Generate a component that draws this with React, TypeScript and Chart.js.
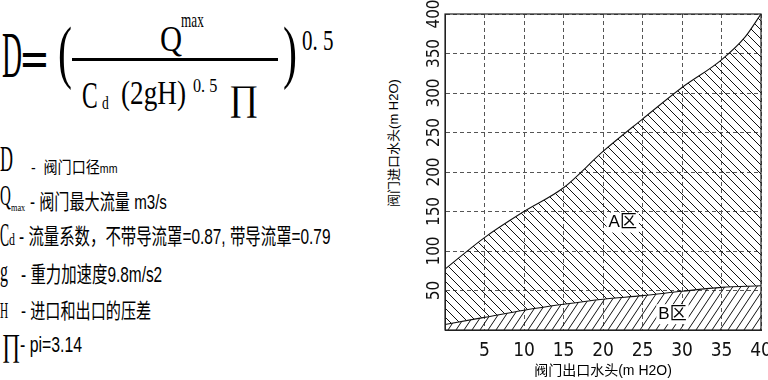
import React, { useEffect, useRef } from 'react';
import { Chart, registerables } from 'chart.js';

Chart.register(...registerables);

// ---- data ----
const upperX = [0, 5, 10, 15, 20, 25, 30, 35, 38, 40];
const upperY = [77, 117, 150, 180, 226, 267, 307, 342, 371, 400];
const lowerX = [0, 5, 10, 15, 20, 25, 30, 35, 40];
const lowerY = [7, 16, 25, 32.5, 39, 43.5, 49, 54, 56];
const regionNames = ['A区', 'B区'];
const regionX = [22.5, 28.8];
const regionY = [136, 20];
const xTitle = '阀门出口水头(m H2O)';
const yTitle = '阀门进口水头(m H2O)';

const SERIF = "'Liberation Serif', 'DejaVu Serif', serif";
const SANS = "'Liberation Sans', 'Noto Sans CJK SC', sans-serif";
const NARROW = "'Liberation Sans Narrow', 'DejaVu Sans Condensed', 'Liberation Sans', sans-serif";

function makeHatch(ctx: CanvasRenderingContext2D, w: number, h: number, dir: 'back' | 'fwd') {
  const c = document.createElement('canvas');
  c.width = w;
  c.height = h;
  const g = c.getContext('2d')!;
  g.strokeStyle = '#111';
  g.lineWidth = 1;
  g.beginPath();
  for (const k of [-1, 0, 1]) {
    if (dir === 'back') {
      g.moveTo(k * w - w, -h);
      g.lineTo(k * w + 2 * w, 2 * h);
    } else {
      g.moveTo(k * w - w, 2 * h);
      g.lineTo(k * w + 2 * w, -h);
    }
  }
  g.stroke();
  return ctx.createPattern(c, 'repeat')!;
}

type TP = { x: number; b: number; f: number; s?: number; fam: 'serif' | 'sans'; bold?: boolean; children: React.ReactNode };
function T({ x, b, f, s = 1, fam, bold, children }: TP) {
  const asc = fam === 'serif' ? 0.8375 : 0.8465;
  return (
    <div
      style={{
        position: 'absolute',
        left: x,
        top: b - asc * f,
        fontSize: f,
        lineHeight: 1,
        fontFamily: fam === 'serif' ? SERIF : SANS,
        fontWeight: bold ? 700 : 400,
        transform: `scaleX(${s})`,
        transformOrigin: 'left top',
        whiteSpace: 'pre',
        color: '#000',
      }}
    >
      {children}
    </div>
  );
}

const overlayPlugin = {
  id: 'overlay',
  afterDatasetsDraw(chart: any) {
    const { ctx, chartArea: a, scales } = chart;
    ctx.save();
    ctx.font = "17px 'Liberation Sans', 'Noto Sans CJK SC', sans-serif";
    ctx.textAlign = 'center';
    ctx.textBaseline = 'middle';
    regionNames.forEach((t, i) => {
      const px = scales.x.getPixelForValue(regionX[i]);
      const py = scales.y.getPixelForValue(regionY[i]);
      const w = ctx.measureText(t).width;
      ctx.fillStyle = '#fff';
      ctx.fillRect(px - w / 2 - 2, py - 10, w + 4, 20);
      ctx.fillStyle = '#000';
      ctx.fillText(t, px, py);
    });
    ctx.setLineDash([]);
    ctx.strokeStyle = '#222';
    ctx.lineWidth = 1.2;
    ctx.strokeRect(a.left, a.top, a.right - a.left, a.bottom - a.top);
    ctx.restore();
  },
};

export default function App() {
  const ref = useRef<HTMLCanvasElement>(null);
  useEffect(() => {
    const canvas = ref.current!;
    const ctx = canvas.getContext('2d')!;
    const patA = makeHatch(ctx, 9, 9, 'back');
    const patB = makeHatch(ctx, 8, 12, 'fwd');
    const chart = new Chart(canvas, {
      type: 'line',
      data: {
        datasets: [
          {
            label: 'A区',
            data: upperX.map((x, i) => ({ x, y: upperY[i] })),
            borderColor: '#111',
            borderWidth: 1.1,
            pointRadius: 0,
            fill: '+1',
            backgroundColor: patA,
            cubicInterpolationMode: 'monotone',
          },
          {
            label: 'B区',
            data: lowerX.map((x, i) => ({ x, y: lowerY[i] })),
            borderColor: '#111',
            borderWidth: 1.1,
            pointRadius: 0,
            fill: 'origin',
            backgroundColor: patB,
            cubicInterpolationMode: 'monotone',
          },
        ],
      },
      options: {
        responsive: false,
        animation: false,
        layout: { padding: { left: 0, right: 7, top: 14, bottom: 0 } },
        plugins: { legend: { display: false }, tooltip: { enabled: false } },
        scales: {
          x: {
            type: 'linear',
            min: 0,
            max: 40,
            ticks: {
              stepSize: 5,
              autoSkip: false,
              maxRotation: 0,
              padding: 10,
              color: '#111',
              font: { family: NARROW, size: 19 },
              callback: (v: any) => (v === 0 ? '' : String(v)),
            },
            grid: { color: '#555', lineWidth: 1, drawTicks: false },
            border: { display: true, color: '#222', dash: [4, 3] },
            title: {
              display: true,
              text: xTitle,
              color: '#000',
              font: { family: SANS, size: 14 },
              padding: { top: 0, bottom: 0 },
            },
            afterFit: (s: any) => {
              s.height = 50;
              s.paddingLeft = 0;
              s.paddingRight = 0;
            },
          },
          y: {
            type: 'linear',
            min: 0,
            max: 400,
            ticks: {
              stepSize: 50,
              minRotation: 90,
              maxRotation: 90,
              crossAlign: 'center',
              padding: -4,
              color: '#111',
              font: { family: NARROW, size: 17 },
              callback: (v: any) => (v === 0 ? '' : String(v)),
            },
            grid: { color: '#555', lineWidth: 1, drawTicks: false },
            border: { display: true, color: '#222', dash: [4, 3] },
            afterFit: (s: any) => {
              s.width = 65;
              s.paddingTop = 0;
              s.paddingBottom = 0;
            },
          },
        },
      } as any,
      plugins: [overlayPlugin],
    });
    return () => chart.destroy();
  }, []);

  return (
    <div style={{ position: 'absolute', left: 0, top: 0, width: 768, height: 380, background: '#fff', overflow: 'hidden' }}>
      {/* formula */}
      <T x={2} b={77} f={66} s={0.42} fam="serif">D</T>
      <T x={21} b={73} f={37} s={1.24} fam="sans" bold>=</T>
      <T x={58} b={76} f={70} s={0.6} fam="serif">(</T>
      <div style={{ position: 'absolute', left: 72, top: 58, width: 206, height: 3, background: '#000' }} />
      <T x={160} b={51} f={36} s={0.85} fam="serif">Q</T>
      <T x={181} b={27} f={22} s={0.6} fam="serif">max</T>
      <T x={82} b={108} f={38} s={0.62} fam="serif">C</T>
      <T x={102} b={109} f={18} s={0.75} fam="serif">d</T>
      <T x={121} b={104} f={34} s={0.8} fam="serif">(2gH)</T>
      <T x={193} b={92} f={18} s={0.9} fam="serif">0. 5</T>
      <T x={229} b={110} f={36} s={1.0} fam="serif">∏</T>
      <T x={283} b={76} f={70} s={0.6} fam="serif">)</T>
      <T x={302} b={50} f={30} s={0.7} fam="serif">0. 5</T>

      {/* legend lines */}
      <T x={0} b={171} f={36} s={0.5} fam="serif">D</T>
      <T x={31} b={174} f={16} s={0.88} fam="sans">{'-  阀门口径'}<span style={{ fontSize: 12 }}>mm</span></T>

      <T x={0} b={205} f={30} s={0.5} fam="serif">Q</T>
      <T x={11} b={211} f={11} s={0.75} fam="serif">max</T>
      <T x={30} b={209} f={21} s={0.72} fam="sans">- 阀门最大流量 m3/s</T>

      <T x={0} b={246} f={34} s={0.4} fam="serif">C</T>
      <T x={9} b={245} f={17} s={0.7} fam="serif">d</T>
      <T x={19} b={245} f={22} s={0.7} fam="sans">- 流量系数，不带导流罩=0.87, 带导流罩=0.79</T>

      <T x={0} b={281} f={29} s={0.55} fam="serif">g</T>
      <T x={21} b={283} f={22} s={0.7} fam="sans">- 重力加速度9.8m/s2</T>

      <T x={0} b={318} f={24} s={0.47} fam="serif">H</T>
      <T x={21} b={318} f={21} s={0.72} fam="sans">- 进口和出口的压差</T>

      <T x={2} b={356} f={32} s={0.7} fam="serif">∏</T>
      <T x={20} b={353} f={22} s={0.72} fam="sans">- pi=3.14</T>

      {/* y axis title */}
      <div
        style={{
          position: 'absolute',
          left: 393,
          top: 143,
          transform: 'translate(-50%, -50%) rotate(-90deg)',
          fontFamily: SANS,
          fontSize: 13,
          lineHeight: 1,
          whiteSpace: 'nowrap',
          color: '#000',
        }}
      >
        {yTitle}
      </div>
      <canvas ref={ref} width={388} height={380} style={{ position: 'absolute', left: 380, top: 0 }} />
    </div>
  );
}
